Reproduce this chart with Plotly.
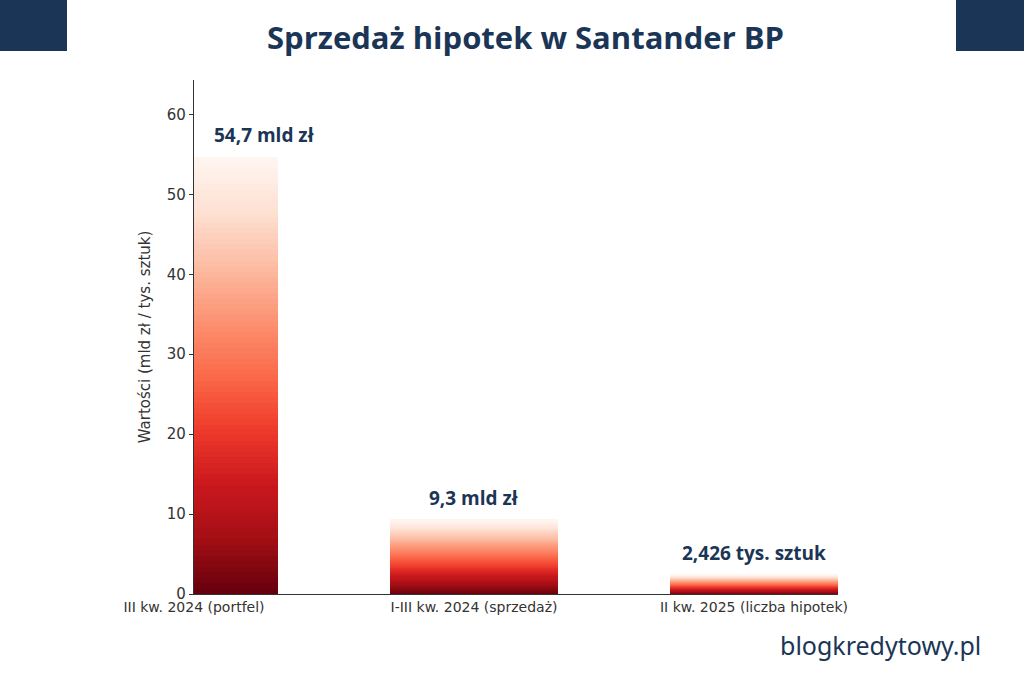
import plotly.graph_objects as go
from plotly.colors import sample_colorscale

categories = ["III kw. 2024 (portfel)", "I-III kw. 2024 (sprzedaż)", "II kw. 2025 (liczba hipotek)"]
values = [54.7, 9.3, 2.426]
labels = ["54,7 mld zł", "9,3 mld zł", "2,426 tys. sztuk"]

N = 80
xs = [0, 1, 2]
label_x = [0.25, 1, 2]
cols = sample_colorscale("Reds", [1 - i / (N - 1) for i in range(N)])
fig = go.Figure()
for i in range(N):
    fig.add_trace(go.Bar(x=xs, y=[v / N for v in values], width=0.6,
                         marker=dict(color=cols[i], line=dict(width=0)),
                         hoverinfo="skip", showlegend=False))
navy = "#1b3556"
for x, v, t in zip(label_x, values, labels):
    fig.add_annotation(x=x, y=v, text="<b>%s</b>" % t, showarrow=False, yshift=22,
                       font=dict(family="Open Sans", size=19, color=navy))
fig.update_layout(
    barmode="stack", bargap=0, width=1024, height=683,
    margin=dict(l=194, r=186, t=80, b=89),
    plot_bgcolor="white", paper_bgcolor="white",
    xaxis=dict(range=[0, 2.3], tickvals=xs, ticktext=categories, showgrid=False,
               showline=True, linecolor="#333", linewidth=1.2, ticks="",
               tickfont=dict(family="DejaVu Sans", size=14, color="#333"), zeroline=False),
    yaxis=dict(range=[0, 64.3], tickvals=[0, 10, 20, 30, 40, 50, 60], showgrid=False,
               showline=True, linecolor="#333", linewidth=1.2, ticks="outside", ticklen=4,
               tickcolor="#333", zeroline=False,
               title=dict(text="Wartości (mld zł / tys. sztuk)", standoff=12,
                          font=dict(family="DejaVu Sans", size=15, color="#333")),
               tickfont=dict(family="DejaVu Sans", size=15, color="#333")),
    shapes=[dict(type="rect", xref="paper", yref="paper", x0=-194/644, x1=(67-194)/644,
                 y0=1 + 29/514, y1=1 + 80/514, fillcolor=navy, line=dict(width=0)),
            dict(type="rect", xref="paper", yref="paper", x0=(956-194)/644, x1=(1024-194)/644,
                 y0=1 + 29/514, y1=1 + 80/514, fillcolor=navy, line=dict(width=0))],
)
fig.add_annotation(xref="paper", yref="paper", x=(525-194)/644, y=1 + 43/514,
                   xanchor="center", yanchor="middle",
                   text="<b>Sprzedaż hipotek w Santander BP</b>", showarrow=False,
                   font=dict(family="Open Sans", size=31, color=navy))
fig.add_annotation(xref="paper", yref="paper", x=(880-194)/644, y=-(645-594)/514,
                   xanchor="center", yanchor="middle",
                   text="blogkredytowy.pl", showarrow=False,
                   font=dict(family="Noto Sans", size=25, color=navy))
fig.write_html("out.html", config={"displayModeBar": False},
               post_script="document.body.style.margin='0';")
